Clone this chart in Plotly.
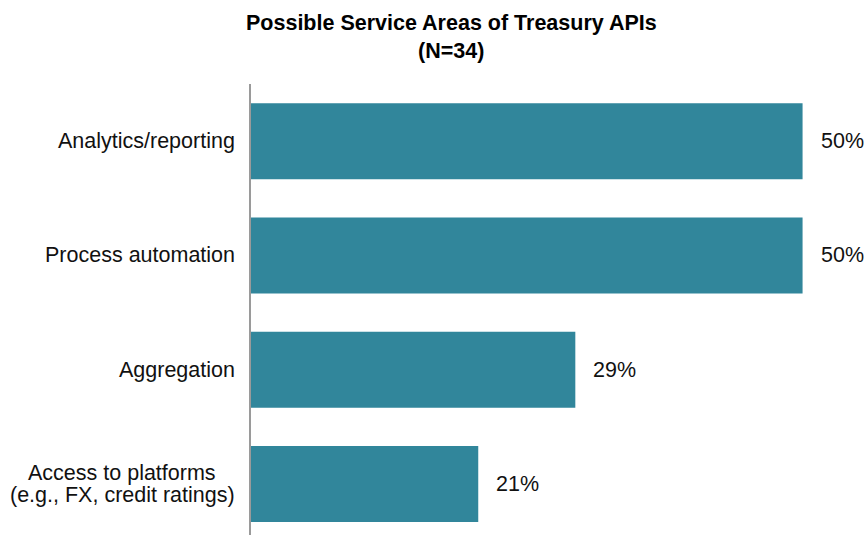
import plotly.graph_objects as go

# Survey results: share of respondents naming each service area
categories = [
    "Analytics/reporting",
    "Process automation",
    "Aggregation",
    "Access to platforms<br>(e.g., FX, credit ratings)",
]
shares = [50.0, 50.0, 29.4, 20.6]

title_lines = ["Possible Service Areas of Treasury APIs", "(N=34)"]

BAR_COLOR = "#31869B"
FONT = "Liberation Sans, Arial, sans-serif"
W, H = 866, 535
M_L, M_R, M_T, M_B = 251, 0, 84, 0

fig = go.Figure(
    go.Bar(
        x=shares,
        y=categories,
        orientation="h",
        marker=dict(color=BAR_COLOR, line=dict(width=0)),
        hoverinfo="skip",
    )
)

annotations = []

# value labels just to the right of each bar
for cat, val in zip(categories, shares):
    annotations.append(
        dict(
            x=val, y=cat, xref="x", yref="y",
            text=f"{val:.0f}%", showarrow=False,
            xanchor="left", yanchor="middle", xshift=16,
            font=dict(family=FONT, size=21.5, color="#111111"),
        )
    )

# category labels, multi-line ones centred line by line with tight spacing
plot_w = W - M_L - M_R
right_edge = (237 - M_L) / plot_w
line_gap = 22.6
for cat in categories:
    lines = cat.split("<br>")
    n = len(lines)
    for i, line in enumerate(lines):
        shift = ((n - 1) / 2 - i) * line_gap
        if n == 1:
            ax, anchor = right_edge, "right"
        else:
            ax, anchor = (122 - M_L) / plot_w, "center"
        annotations.append(
            dict(
                x=ax, y=cat, xref="paper", yref="y",
                text=line, showarrow=False,
                xanchor=anchor, yanchor="middle", yshift=shift,
                font=dict(family=FONT, size=21.5, color="#111111"),
            )
        )

# two-line chart title
for i, line in enumerate(title_lines):
    annotations.append(
        dict(
            x=(451 - M_L) / plot_w, y=1, xref="paper", yref="paper",
            text=f"<b>{line}</b>", showarrow=False,
            xanchor="center", yanchor="bottom", yshift=[47, 19][i],
            font=dict(family=FONT, size=21.5, color="#000000"),
        )
    )

fig.update_layout(
    width=W, height=H,
    margin=dict(l=M_L, r=M_R, t=M_T, b=M_B, pad=0),
    paper_bgcolor="white", plot_bgcolor="white",
    showlegend=False,
    bargap=0.335,
    annotations=annotations,
    xaxis=dict(
        range=[0, 55.75], showgrid=False, zeroline=False,
        showline=False, showticklabels=False, fixedrange=True,
    ),
    yaxis=dict(
        type="category", categoryorder="array", categoryarray=categories,
        range=[3.446, -0.5], showgrid=False, zeroline=False,
        showline=True, linecolor="#9a9a9a", linewidth=2,
        showticklabels=False, ticks="", fixedrange=True,
    ),
)

fig.write_html("out.html")
